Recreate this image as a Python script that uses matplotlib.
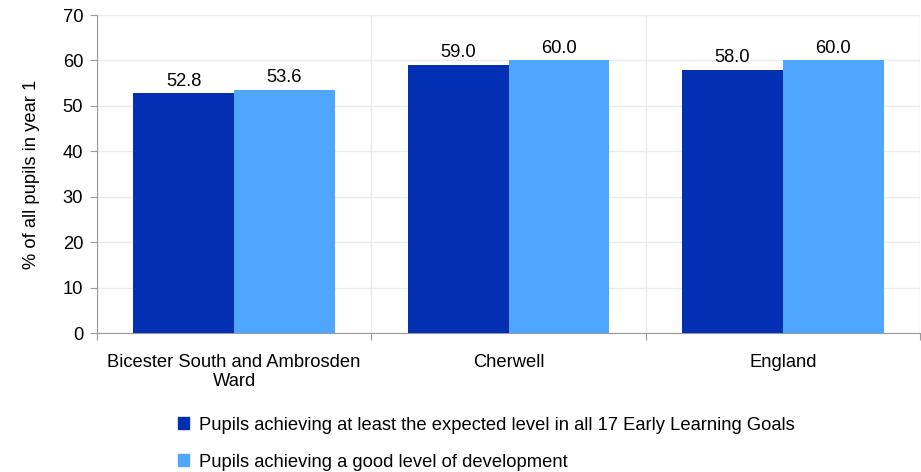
import matplotlib
matplotlib.use("Agg")
import matplotlib.pyplot as plt
from matplotlib.patches import Patch
import numpy as np

categories = ["Bicester South and Ambrosden\nWard", "Cherwell", "England"]
series_names = ["Pupils achieving at least the expected level in all 17 Early Learning Goals",
                "Pupils achieving a good level of development"]
expected_level = [52.8, 59.0, 58.0]
good_level = [53.6, 60.0, 60.0]
yticks = [0, 10, 20, 30, 40, 50, 60, 70]

colors = ["#0330B3", "#4FA6FF"]
FS = 13.2

plt.rcParams['font.family'] = ['Liberation Sans', 'DejaVu Sans']
fig = plt.figure(figsize=(9.21, 4.72), dpi=100)
ax = fig.add_axes([97/921, 1-333/472, (920-97)/921, (333-15)/472])

x = np.arange(len(categories))
w = 0.367
b1 = ax.bar(x - w/2, expected_level, w, color=colors[0], zorder=3)
b2 = ax.bar(x + w/2, good_level, w, color=colors[1], zorder=3)
for bars, vals in ((b1, expected_level), (b2, good_level)):
    for r, v in zip(bars, vals):
        ax.annotate(f"{v:.1f}", (r.get_x() + r.get_width()/2, v), xytext=(0, 2.5),
                    textcoords="offset points", ha="center", va="bottom", fontsize=FS)

ax.set_xlim(-0.5, 2.5)
ax.set_ylim(0, 70)
ax.set_yticks(yticks)
ax.set_xticks([-0.5, 0.5, 1.5, 2.5])
ax.set_xticklabels([])
ax.set_xticks(x, minor=True)
ax.set_xticklabels(categories, minor=True, fontsize=FS)
ax.tick_params(axis='x', which='minor', length=0, pad=15)
ax.tick_params(axis='x', which='major', length=5, color="#999999")
ax.tick_params(axis='y', length=5, color="#999999", labelsize=FS, pad=5)
ax.grid(True, which='major', color="#ebebeb", linewidth=1, zorder=0)
for s in ("top", "right"):
    ax.spines[s].set_visible(False)
for s in ("left", "bottom"):
    ax.spines[s].set_color("#999999")
ax.set_ylabel("% of all pupils in year 1", fontsize=FS, labelpad=16)

handles = [Patch(color=colors[0]), Patch(color=colors[1])]
fig.legend(handles, series_names, loc="upper left", bbox_to_anchor=(161/921, 1-400/472),
           frameon=False, fontsize=FS, handlelength=0.6, handleheight=0.6,
           handletextpad=0.55, labelspacing=1.1)

fig.savefig("out.png", dpi=100)
